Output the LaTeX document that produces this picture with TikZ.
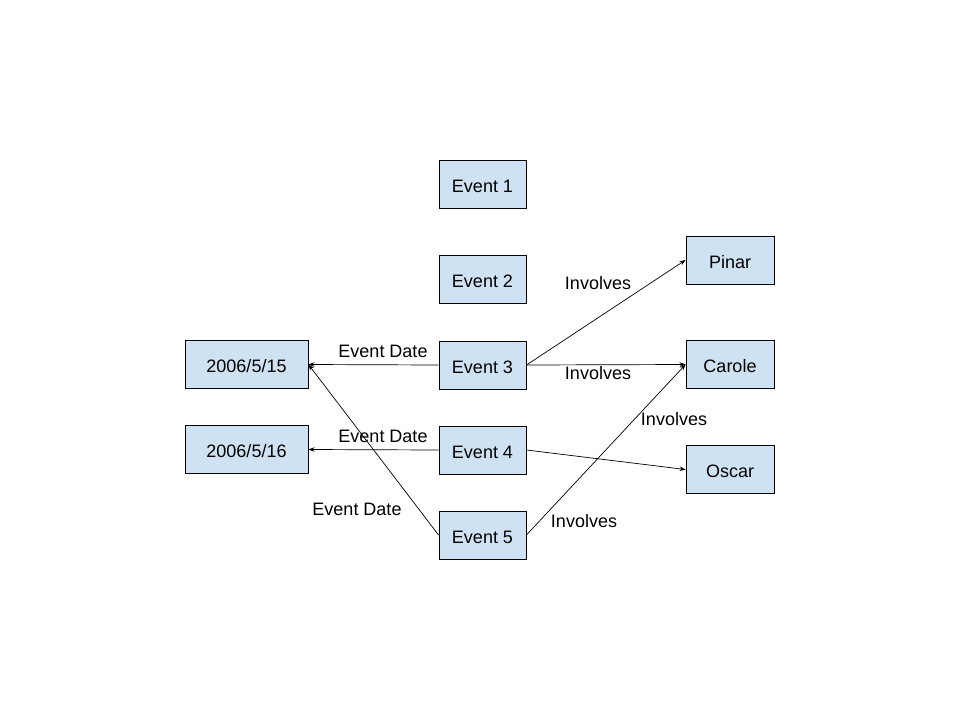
\documentclass[tikz,border=0pt]{standalone}
\usepackage{fontspec}
\setmainfont{Liberation Sans}
\usetikzlibrary{arrows.meta}
\begin{document}
\begin{tikzpicture}[x=1pt,y=-1pt,
  box/.style={draw=black,line width=0.9pt,fill={rgb,255:red,207;green,226;blue,243},minimum height=48pt,inner sep=0pt,text height=16pt,text depth=0pt,font=\fontsize{18}{22}\selectfont},
  ev/.style={box,minimum width=87pt},
  dt/.style={box,minimum width=123pt},
  ps/.style={box,minimum width=88pt},
  lbl/.style={inner sep=0pt,font=\fontsize{18}{22}\selectfont},
  conn/.style={line width=0.7pt,-{Stealth[length=6pt,width=4.5pt]}}]
\useasboundingbox (0,0) rectangle (960,720);
\node[ev] (e1) at (482.5,184) {Event 1};
\node[ev] (e2) at (482.5,279) {Event 2};
\node[ev] (e3) at (482.5,365) {Event 3};
\node[ev] (e4) at (482.5,450) {Event 4};
\node[ev] (e5) at (482.5,535) {Event 5};
\node[dt] (d15) at (246.5,364.5) {2006/5/15};
\node[dt] (d16) at (246.5,449.5) {2006/5/16};
\node[ps] (pinar) at (730,260) {Pinar};
\node[ps] (carole) at (730,364.5) {Carole};
\node[ps] (oscar) at (730,469.5) {Oscar};
\draw[conn] (e3.west) -- (d15.east);
\draw[conn] (e4.west) -- (d16.east);
\draw[conn] (e5.west) -- (d15.east);
\draw[conn] (e3.east) -- (pinar.west);
\draw[conn] (e3.east) -- (carole.west);
\draw[conn] (e4.east) -- (oscar.west);
\draw[conn] (e5.east) -- (carole.west);
\node[lbl] (l1) at (383,351) {Event Date};
\node[lbl] (l2) at (383,436) {Event Date};
\node[lbl] (l3) at (357,509) {Event Date};
\node[lbl] (l4) at (598,283) {Involves};
\node[lbl] (l5) at (598,373) {Involves};
\node[lbl] (l6) at (674,419) {Involves};
\node[lbl] (l7) at (584,521) {Involves};
\end{tikzpicture}
\end{document}
